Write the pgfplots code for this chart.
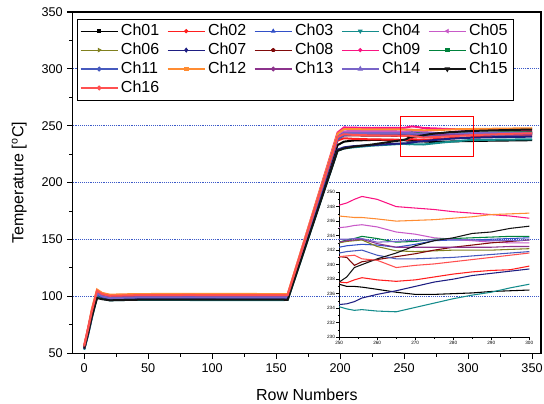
\documentclass[border=0pt]{standalone}
\usepackage{fontspec}
\setmainfont{Liberation Sans}
\usepackage{pgfplots}
\usepackage{pgfplotstable}
\pgfplotsset{compat=1.18}

\definecolor{col1}{RGB}{0,0,0}
\definecolor{col2}{RGB}{255,30,30}
\definecolor{col3}{RGB}{50,80,200}
\definecolor{col4}{RGB}{20,140,140}
\definecolor{col5}{RGB}{200,90,200}
\definecolor{col6}{RGB}{128,128,30}
\definecolor{col7}{RGB}{30,30,130}
\definecolor{col8}{RGB}{128,10,10}
\definecolor{col9}{RGB}{250,20,130}
\definecolor{col10}{RGB}{0,130,60}
\definecolor{col11}{RGB}{70,90,190}
\definecolor{col12}{RGB}{255,140,50}
\definecolor{col13}{RGB}{140,50,140}
\definecolor{col14}{RGB}{120,100,200}
\definecolor{col15}{RGB}{20,20,20}
\definecolor{col16}{RGB}{255,80,80}
\definecolor{gridblue}{RGB}{60,90,200}

% row numbers and channel temperatures
\pgfplotstableread{
x   c1    c2    c3    c4    c5    c6    c7    c8    c9    c10   c11   c12   c13   c14   c15   c16
0   55    56    54    53    56    55    54    55    57    55    54    57    55    54    54    56
3   69    71    68    66    71    69    68    70    72    69    68    72    70    67    67    71
6   84    87    83    81    87    85    83    86    88    85    84    89    86    82    82    87
10  99    104   102   100   104   103   102   103.5 105   103   102.5 106   103.5 102.5 98.5  105
14  98    101.5 99.5  98    101.5 100.5 99.5  101   102.5 100.5 100   103   101   100   97.5  102
20  97    100   98    96.5  100   99    98    99.5  101   99    98.5  101.5 99.5  98.5  96.5  100.5
40  97.5  100.5 98.5  97    100.5 99.5  98.5  100   101.5 99.5  99    102   100   99    97    101
80  97.8  100.8 98.6  96.8  100.7 99.6  98.4  100.2 101.7 99.4  99.1  102.2 100.1 99.2  97.2  101.2
120 97.6  100.6 98.4  96.6  100.5 99.4  98.5  100.1 101.6 99.6  98.9  102.1 100.2 99.0  97.1  101.1
159 97.5  100.5 98.5  96.8  100.6 99.5  98.4  100.0 101.5 99.5  99.0  102.0 100.0 99.1  97.0  101.0
198 233   237   239   228   241   239   229   239   244   239.5 238   243   240   240   228   240
203 236   239   242.5 230   245   242.5 231   241.5 248.5 243   241.5 247   243.5 243.5 230   242.5
210 237   238.5 242.6 231   245.5 243   232   241.5 248.3 243.2 242   247   243.5 243.6 231.5 242
225 237.5 238   242.5 232.5 245.3 243   233   241.3 248.0 243.1 241.9 246.8 243.3 243.5 233.5 241.5
240 237.5 237.8 242.4 233.5 245.2 243   234   241.2 248.2 243.1 241.7 246.8 243.2 243.5 236   241.3
250 237.3 237.6 242.4 234.2 245.1 243.0 234.5 241.1 248.2 243.1 241.6 246.7 243.1 243.5 237.6 241.1
252 237.0 237.5 242.6 233.9 245.2 243.2 234.6 241.0 248.5 243.4 241.8 246.6 243.3 243.5 238.3 241.2
254 237.0 237.9 242.7 233.7 245.4 243.3 234.9 239.9 249.0 243.6 241.9 246.5 243.4 243.6 239.6 241.3
256 236.9 238.2 242.8 233.8 245.5 243.4 235.4 240.4 249.4 243.9 242.0 246.5 243.5 243.6 240.0 240.8
260 236.6 237.9 242.7 233.6 245.2 242.5 235.9 240.7 249.0 243.6 241.3 246.3 242.9 243.1 240.8 240.6
265 236.2 237.7 242.4 233.5 244.5 241.9 236.4 241.1 248.0 243.1 240.8 246.0 242.4 243.2 241.6 239.6
270 235.9 237.9 242.8 234.1 244.2 241.8 237.0 241.5 247.8 243.2 240.8 246.1 242.4 243.4 242.6 239.9
275 235.9 238.3 243.3 234.7 243.7 241.9 237.6 242.0 247.6 243.5 240.9 246.2 242.4 243.4 243.3 240.1
280 236.0 238.7 243.4 235.3 243.5 242.0 238.0 242.4 247.3 243.6 241.0 246.4 242.4 243.5 243.7 240.4
285 236.1 239.0 243.4 235.8 243.3 242.0 238.5 242.7 247.1 243.7 241.2 246.6 242.4 243.4 244.3 240.7
290 236.3 239.2 243.5 236.2 243.1 242.0 238.8 243.0 246.9 243.8 241.4 246.9 242.4 243.3 244.5 241.0
295 236.4 239.3 243.6 236.8 243.0 242.1 239.1 243.2 246.7 243.9 241.6 247.0 242.5 243.3 245.0 241.3
300 236.5 239.8 243.7 237.3 243.0 242.2 239.4 243.4 246.4 243.9 241.8 247.1 242.5 243.4 245.3 241.6
315 236.8 240.3 243.9 237.6 243.0 242.4 239.8 243.7 246.3 244.0 242.0 247.3 242.6 243.5 245.8 242.2
330 237.0 240.8 244.0 237.8 243.0 242.5 240.1 243.9 246.2 244.1 242.2 247.5 242.7 243.5 246.2 242.8
350 237.3 241.4 244.2 238.1 243.0 242.7 240.4 244.1 246.0 244.2 242.4 247.8 242.8 243.6 246.7 243.4
}\temps

\begin{document}
\begin{tikzpicture}
\path[use as bounding box] (-54.5pt,-37.5pt) rectangle (353.25pt,264.75pt);
\begin{axis}[
    name=main, at={(0,0)}, anchor=south west,
    scale only axis, width=351pt, height=255.75pt,
    xmin=-9, xmax=357, ymin=50, ymax=350,
    xtick={0,50,...,350}, ytick={50,100,...,350},
    minor x tick num=1, minor y tick num=1,
    tick align=outside, tick pos=left,
    major tick length=4pt, minor tick length=2.5pt,
    every tick/.style={black, line width=0.8pt},
    axis line style={line width=0.9pt},
    ymajorgrids, major grid style={densely dotted, gridblue, line width=0.6pt},
    ticklabel style={font=\fontsize{9.5}{11}\selectfont},
    /pgf/number format/assume math mode=true,
    xlabel={Row Numbers}, ylabel={Temperature [\textsuperscript{o}C]},
    label style={font=\fontsize{12}{14}\selectfont},
    xlabel style={at={(axis description cs:0.5,-0.123)}, anchor=center},
    ylabel style={at={(axis description cs:-0.114,0.5)}, anchor=center},
    legend columns=5,
    legend cell align=left,
    legend image code/.code={\draw[mark repeat=2,mark phase=2,#1] plot coordinates {(0cm,0cm) (0.4875cm,0cm) (0.975cm,0cm)};},
    legend style={at={(0,1)}, anchor=north west, xshift=3.2pt, yshift=-5pt,
        font=\fontsize{12}{13}\selectfont, draw=black, line width=0.5pt,
        inner ysep=2pt, inner xsep=2pt,
        nodes={text width=29pt, inner xsep=2pt},
        /tikz/every even column/.append style={column sep=3.5pt}},
]
\pgfplotsinvokeforeach{1,...,16}{
  \addplot[col#1, line width=1.5pt, forget plot] table[x=x, y=c#1]{\temps};
}
\addplot[red, line width=0.9pt, forget plot] coordinates {(247,223) (304,223) (304,258) (247,258) (247,223)};
\addlegendimage{col1, line width=0.6pt, mark=square*, mark size=1.3pt}
\addlegendimage{col2, line width=0.6pt, mark=*, mark size=1.3pt}
\addlegendimage{col3, line width=0.6pt, mark=triangle*, mark size=1.5pt}
\addlegendimage{col4, line width=0.6pt, mark=triangle*, mark options={rotate=180}, mark size=1.5pt}
\addlegendimage{col5, line width=0.6pt, mark=triangle*, mark options={rotate=90}, mark size=1.5pt}
\addlegendimage{col6, line width=0.6pt, mark=triangle*, mark options={rotate=-90}, mark size=1.5pt}
\addlegendimage{col7, line width=0.6pt, mark=diamond*, mark size=1.5pt}
\addlegendimage{col8, line width=0.6pt, mark=pentagon*, mark size=1.3pt}
\addlegendimage{col9, line width=0.6pt, mark=*, mark size=1.3pt}
\addlegendimage{col10, line width=0.6pt, mark=square*, mark size=1.2pt}
\addlegendimage{col11, line width=1pt, mark=*, mark size=1.3pt}
\addlegendimage{col12, line width=1pt, mark=square*, mark size=1.3pt}
\addlegendimage{col13, line width=1pt, mark=*, mark size=1.3pt}
\addlegendimage{col14, line width=1pt, mark=triangle*, mark size=1.5pt}
\addlegendimage{col15, line width=1pt, mark=triangle*, mark options={rotate=180}, mark size=1.5pt}
\addlegendimage{col16, line width=1pt, mark=*, mark size=1.3pt}
\legend{Ch01,Ch02,Ch03,Ch04,Ch05,Ch06,Ch07,Ch08,Ch09,Ch10,Ch11,Ch12,Ch13,Ch14,Ch15,Ch16}
\end{axis}

\begin{axis}[
    at={(199.7pt,12pt)}, anchor=south west,
    scale only axis, width=142.5pt, height=108.75pt,
    xmin=250, xmax=300, ymin=230, ymax=250,
    axis lines=left, axis line style={-, line width=0.6pt},
    xtick={250,260,...,300}, ytick={230,232,...,250},
    minor x tick num=1, minor y tick num=1,
    tick align=outside, major tick length=2pt, minor tick length=1.2pt,
    every tick/.style={black, line width=0.4pt},
    ticklabel style={font=\fontsize{3.5}{4}\selectfont, inner sep=1pt},
    /pgf/number format/assume math mode=true,
]
\pgfplotsinvokeforeach{1,...,16}{
  \addplot[col#1, line width=0.8pt] table[x=x, y=c#1]{\temps};
}
\end{axis}
\end{tikzpicture}
\end{document}
